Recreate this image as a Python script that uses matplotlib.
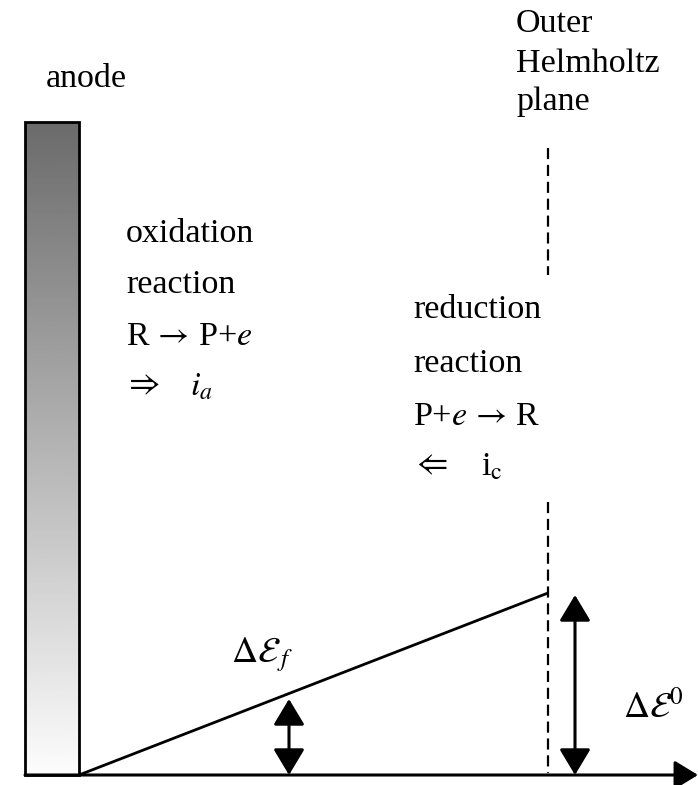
import numpy as np
import matplotlib
matplotlib.use("Agg")
import matplotlib.pyplot as plt

plt.rcParams['font.family'] = ['Liberation Serif', 'DejaVu Serif']
plt.rcParams['mathtext.fontset'] = 'stix'

# geometry (pixel coordinates of the diagram)
anode_x = [25, 79]
anode_y = [122, 775]
axis_y = 775
axis_x = [25, 698]
ramp_x = [79, 548]
ramp_y = [775, 593]
ohp_x = 548
ohp_dash_upper = [148, 275]
ohp_dash_lower = [502, 773]
small_arrow = [289, 699, 775]
big_arrow = [575, 595, 775]

left_lines = ["oxidation", "reaction", r"R$\,\rightarrow\,$P+$e$"]
right_lines = ["reduction", "reaction", r"P+$e\,\rightarrow\,$R"]
ohp_lines = ["Outer", "Helmholtz", "plane"]

fig = plt.figure(figsize=(6.98, 7.85), dpi=100)
ax = fig.add_axes([0, 0, 1, 1])
ax.set_xlim(0, 698)
ax.set_ylim(785, 0)
ax.axis('off')

# anode gradient bar
grad = np.linspace(0.42, 0.99, 256).reshape(-1, 1)
ax.imshow(grad, cmap='gray', vmin=0, vmax=1, aspect='auto',
          extent=[anode_x[0], anode_x[1], anode_y[1], anode_y[0]], zorder=1)
ax.add_patch(plt.Rectangle((anode_x[0], anode_y[0]), anode_x[1] - anode_x[0],
                           anode_y[1] - anode_y[0], fill=False, ec='black', lw=2.0, zorder=2))

# horizontal axis with arrow
ax.annotate('', xy=(axis_x[1], axis_y), xytext=(axis_x[0], axis_y),
            arrowprops=dict(arrowstyle='-|>,head_length=0.9,head_width=0.55',
                            mutation_scale=16, lw=2.2, color='black', shrinkA=0, shrinkB=0))

# ramp line
ax.plot(ramp_x, ramp_y, color='black', lw=2.0, solid_capstyle='butt')

# outer Helmholtz plane dashes
for seg in (ohp_dash_upper, ohp_dash_lower):
    ax.plot([ohp_x, ohp_x], seg, color='black', lw=1.6, linestyle=(0, (5, 2.6)))

# double arrows
for xa, y0, y1 in (small_arrow, big_arrow):
    ax.annotate('', xy=(xa, y0), xytext=(xa, y1),
                arrowprops=dict(arrowstyle='<|-|>,head_length=1.0,head_width=0.6',
                                mutation_scale=16, lw=2.2, color='black', shrinkA=0, shrinkB=0))

fs = 24.5
ax.text(46, 87, "anode", fontsize=fs, va='baseline', ha='left')
for t, yb in zip(left_lines, [242, 293, 345]):
    ax.text(126, yb, t, fontsize=fs, va='baseline', ha='left')
ax.text(124, 393, r"$\Rightarrow$", fontsize=fs, va='baseline', ha='left')
ax.text(190, 395, r"$i_a$", fontsize=fs, va='baseline', ha='left')

for t, yb in zip(right_lines, [318, 372, 425]):
    ax.text(413, yb, t, fontsize=fs, va='baseline', ha='left')
ax.text(412, 473, r"$\Leftarrow$", fontsize=fs, va='baseline', ha='left')
ax.text(481, 475, r"i$_\mathrm{c}$", fontsize=fs, va='baseline', ha='left')

for t, yb in zip(ohp_lines, [32, 72, 110]):
    ax.text(516, yb, t, fontsize=fs, va='baseline', ha='left')

ax.text(231, 662, r"$\Delta\mathcal{E}_{\,f}$", fontsize=26, va='baseline', ha='left')
ax.text(623, 718, r"$\Delta\mathcal{E}^0$", fontsize=26, va='baseline', ha='left')

fig.savefig("out.png", dpi=100, facecolor='white')
